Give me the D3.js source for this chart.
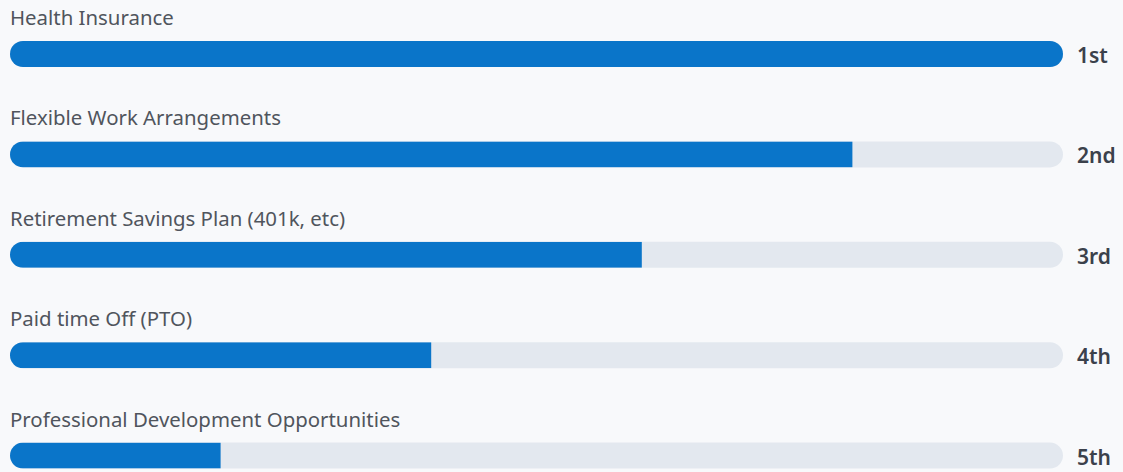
<!DOCTYPE html>
<html>
<head>
<meta charset="utf-8">
<script src="https://cdn.jsdelivr.net/npm/d3@7"></script>
<style>
  html, body { margin: 0; padding: 0; background: #f8f9fb; }
  svg { display: block; }
</style>
</head>
<body>
<script>
// benefits ranking
var categories = [
  "Health Insurance",
  "Flexible Work Arrangements",
  "Retirement Savings Plan (401k, etc)",
  "Paid time Off (PTO)",
  "Professional Development Opportunities"
];
var values = [100, 80, 60, 40, 20];
var ranks = ["1st", "2nd", "3rd", "4th", "5th"];

var width = 1123;
var height = 472;

var svg = d3.select("body")
  .append("svg")
  .attr("width", width)
  .attr("height", height);

var x = d3.scaleLinear().domain([0, 100]).range([10, 1063]);
var y = d3.scaleBand().domain(categories).range([0, 502]).padding(0);

var barTop = 41;
var barH = 26;

var rows = svg.selectAll("g.row")
  .data(categories)
  .enter()
  .append("g")
  .attr("class", "row")
  .attr("transform", function (d) { return "translate(0," + y(d) + ")"; });

// clip each row to its rounded track
rows.append("clipPath")
  .attr("id", function (d, i) { return "clip" + i; })
  .append("rect")
  .attr("x", x(0))
  .attr("y", barTop)
  .attr("width", x(100) - x(0))
  .attr("height", barH)
  .attr("rx", barH / 2);

rows.append("rect")
  .attr("x", x(0))
  .attr("y", barTop)
  .attr("width", x(100) - x(0))
  .attr("height", barH)
  .attr("rx", barH / 2)
  .attr("fill", "#e3e8ef");

rows.append("rect")
  .attr("clip-path", function (d, i) { return "url(#clip" + i + ")"; })
  .attr("x", x(0))
  .attr("y", barTop)
  .attr("width", function (d, i) { return x(values[i]) - x(0); })
  .attr("height", barH)
  .attr("fill", "#0a75c9");

// category labels above bars
rows.append("text")
  .attr("x", 10)
  .attr("y", 25)
  .attr("fill", "#50555d")
  .attr("font-family", "'Noto Sans', sans-serif")
  .attr("font-size", "20.4px")
  .text(function (d) { return d; });

// rank on the right
rows.append("text")
  .attr("x", 1077)
  .attr("y", barTop + 22)
  .attr("fill", "#3b414b")
  .attr("font-family", "'Noto Sans', sans-serif")
  .attr("font-weight", 600)
  .attr("font-size", "21px")
  .text(function (d, i) { return ranks[i]; });
</script>
</body>
</html>
